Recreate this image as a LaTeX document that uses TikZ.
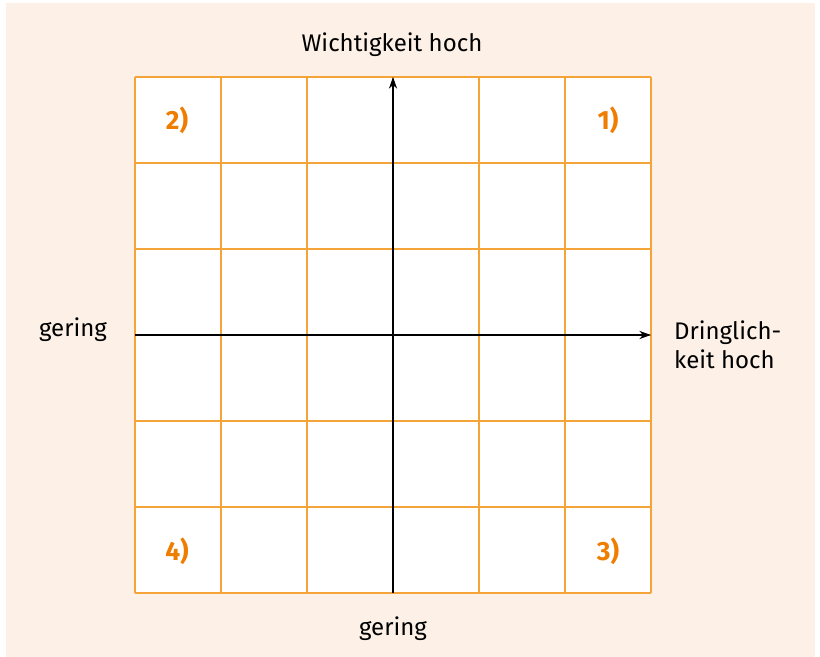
\documentclass[tikz,border=0pt]{standalone}
\usepackage{fontspec}
\setmainfont{Fira Sans}
\usepackage{tikz}
\usetikzlibrary{arrows.meta}

\definecolor{panel}{HTML}{FDF1E7}
\definecolor{gridorange}{HTML}{F5A43A}
\definecolor{numorange}{HTML}{EE7D00}

\tikzset{
    quadlabel/.style={font=\fontsize{22.5}{26}\selectfont\bfseries, text=numorange},
    axislabel/.style={font=\fontsize{20.5}{24.5}\selectfont, text=black},
    gridline/.style={draw=gridorange, line width=1.3pt},
    axisline/.style={-{Stealth[length=10pt, width=7pt]}, line width=1pt, black}
}

\begin{document}
\begin{tikzpicture}[x=0.03cm, y=-0.03cm]
        % Canvas and beige panel
        \useasboundingbox (0,0) rectangle (820,657);
        \fill[white] (0,0) rectangle (820,657);
        \fill[panel] (6,3) rectangle (815,657);

        % The 6x6 grid
        \fill[white] (135,77) rectangle (651,593);
        \foreach \i in {0,...,6} {
            \draw[gridline] ({135+\i*86},77) -- ({135+\i*86},593);
            \draw[gridline] (135,{77+\i*86}) -- (651,{77+\i*86});
        }

        % Axes
        \coordinate (yfoot) at (393,593);
        \coordinate (ytip) at (393,77);
        \coordinate (xfoot) at (135,335);
        \coordinate (xtip) at (651,335);
        \draw[axisline] (yfoot) -- (ytip);
        \draw[axisline] (xfoot) -- (xtip);

        % Axis labels
        \node[axislabel] (wichtig) at (392,45) {Wichtigkeit hoch};
        \node[axislabel] (geringunten) at (393,629) {gering};
        \node[axislabel] (geringlinks) at (73,330) {gering};
        \node[axislabel, anchor=west, align=left] (dringlich) at (670,345) {Dringlich-\\keit hoch};

        % Quadrant numbers
        \node[quadlabel] (q1) at (608,120) {1)};
        \node[quadlabel] (q2) at (177,120) {2)};
        \node[quadlabel] (q3) at (608,551) {3)};
        \node[quadlabel] (q4) at (177,551) {4)};
    \end{tikzpicture}
\end{document}
